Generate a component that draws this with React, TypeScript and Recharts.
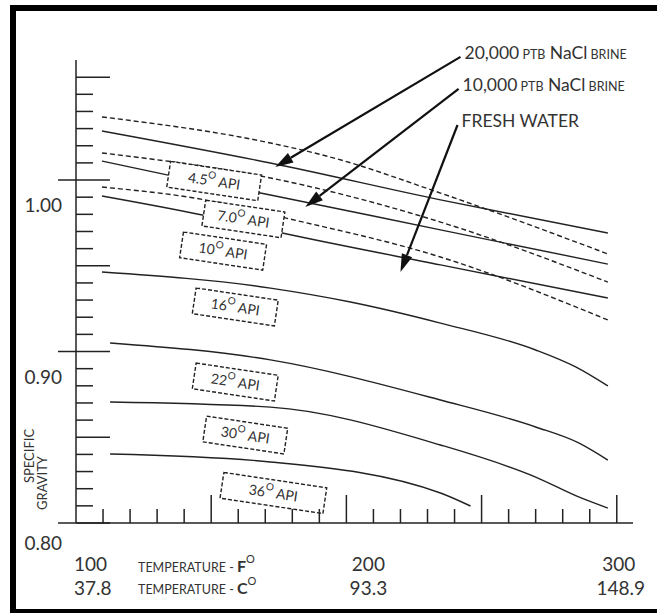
import { Line, LineChart, ReferenceDot, ReferenceLine, XAxis, YAxis } from "recharts";

const FONT = "Lato, 'DejaVu Sans', sans-serif";
const INK = "#222";

// curve readings: temperature (F) and specific gravity
const OIL45_T = [109.6, 171.9, 194.1, 234.8, 296.7];
const OIL45_SG = [1.0368, 1.0216, 1.0134, 0.9924, 0.9569];
const BRINE20_T = [109.6, 171.9, 234.8, 296.7];
const BRINE20_SG = [1.0286, 1.0099, 0.9884, 0.9691];
const OIL70_T = [109.6, 171.9, 234.8, 296.7];
const OIL70_SG = [1.0158, 1.0012, 0.9755, 0.9405];
const BRINE10_T = [109.6, 134.1, 171.9, 234.8, 296.7];
const BRINE10_SG = [1.0111, 1.0029, 0.9913, 0.9709, 0.951];
const OIL10_T = [109.6, 147.8, 177.4, 234.8, 296.7];
const OIL10_SG = [0.9959, 0.9884, 0.9779, 0.9551, 0.9184];
const FRESH_T = [109.6, 146.7, 176.3, 234.8, 296.7];
const FRESH_SG = [0.9907, 0.9796, 0.9691, 0.9505, 0.9312];
const OIL16_T = [109.6, 171.9, 201.5, 234.8, 270.0, 284.8, 296.7];
const OIL16_SG = [0.9464, 0.937, 0.9289, 0.9166, 0.9009, 0.891, 0.8799];
const OIL22_T = [112.6, 171.9, 234.8, 270.0, 285.9, 296.7];
const OIL22_SG = [0.905, 0.8951, 0.8717, 0.856, 0.8467, 0.8367];
const OIL30_T = [112.6, 171.9, 234.8, 270.0, 285.9, 296.7];
const OIL30_SG = [0.8706, 0.8676, 0.8455, 0.8268, 0.8152, 0.8087];
const OIL36_T = [112.6, 171.9, 234.8, 245.9];
const OIL36_SG = [0.8402, 0.8356, 0.8175, 0.8099];

// API labels in boxes
const BOX_API = ["4.5", "7.0", "10", "16", "22", "30", "36"];
const BOX_T = [151.1, 161.9, 154.4, 158.9, 158.9, 162.6, 173.0];
const BOX_SG = [0.9994, 0.9773, 0.9586, 0.926, 0.8822, 0.8513, 0.8175];
const BOX_WIDTHS = [92, 80, 84, 83, 83, 82, 104];

// arrow annotations
const ARROW_TEXT = ["20,000 PTB NaCl BRINE", "10,000 PTB NaCl BRINE", "FRESH WATER"];
const ARROW_FROM_T = [242.2, 241.5, 241.1];
const ARROW_FROM_SG = [1.0718, 1.0531, 1.0321];
const ARROW_TO_T = [173.7, 184.8, 220.0];
const ARROW_TO_SG = [1.0076, 0.9843, 0.9464];
const SMALL_CAPS = ["PTB", "BRINE"];

const TEMP_TICKS = [100, 110, 120, 130, 140, 150, 160, 170, 180, 190, 200, 210, 220, 230, 240, 250, 260, 270, 280, 290, 300];
const F_LABEL_AT = [100, 200, 300];
const F_LABELS = ["100", "200", "300"];
const C_LABELS = ["37.8", "93.3", "148.9"];
const SG_TICKS = [
  0.8, 0.81, 0.82, 0.83, 0.84, 0.85, 0.86, 0.87, 0.88, 0.89, 0.9, 0.91, 0.92, 0.93, 0.94, 0.95, 0.96, 0.97,
  0.98, 0.99, 1.0, 1.01, 1.02, 1.03, 1.04, 1.05, 1.06,
];
const LONG_SG_TICKS = [0.85, 0.95, 1.06];

const zip = (t: number[], sg: number[]) => t.map((v, i) => ({ t: v, sg: sg[i] }));

const CURVES = [
  { key: "oil45", data: zip(OIL45_T, OIL45_SG), dashed: true },
  { key: "brine20", data: zip(BRINE20_T, BRINE20_SG), dashed: false },
  { key: "oil70", data: zip(OIL70_T, OIL70_SG), dashed: true },
  { key: "brine10", data: zip(BRINE10_T, BRINE10_SG), dashed: false },
  { key: "oil10", data: zip(OIL10_T, OIL10_SG), dashed: true },
  { key: "fresh", data: zip(FRESH_T, FRESH_SG), dashed: false },
  { key: "oil16", data: zip(OIL16_T, OIL16_SG), dashed: false },
  { key: "oil22", data: zip(OIL22_T, OIL22_SG), dashed: false },
  { key: "oil30", data: zip(OIL30_T, OIL30_SG), dashed: false },
  { key: "oil36", data: zip(OIL36_T, OIL36_SG), dashed: false },
];

function SgTick({ x, y, payload }: any) {
  const v = Math.round(payload.value * 100);
  if (v % 10 === 0) {
    return (
      <g>
        <line x1={x - 18} x2={x + 34} y1={y} y2={y} stroke={INK} strokeWidth={1.5} />
        <text x={x - 14} y={y + (v === 80 ? 27 : 32)} textAnchor="end" fontSize={19} fill="#333" fontFamily={FONT}>
          {(v / 100).toFixed(2)}
        </text>
      </g>
    );
  }
  const long = LONG_SG_TICKS.some((l) => Math.round(l * 100) === v);
  return <line x1={x} x2={x + (long ? 34 : 17)} y1={y} y2={y} stroke={INK} strokeWidth={1.5} />;
}

function TempTick({ x, y, payload }: any) {
  const t = payload.value;
  const i = F_LABEL_AT.indexOf(t);
  const tall = t % 50 === 0;
  return (
    <g fontFamily={FONT} fill="#333">
      {t !== 100 && <line x1={x} x2={x} y1={y} y2={y - (tall ? 28 : 14)} stroke={INK} strokeWidth={1.5} />}
      {i === 0 && (
        <g>
          <text x={x - 2} y={y + 48} fontSize={19}>{F_LABELS[i]}</text>
          <text x={x - 2} y={y + 72} fontSize={19}>{C_LABELS[i]}</text>
          <text x={x + 62} y={y + 49} fontSize={12.5}>
            TEMPERATURE -{" "}
            <tspan fontSize={16} fontWeight="bold">F</tspan>
            <tspan fontSize={11} dy={-9}>O</tspan>
          </text>
          <text x={x + 62} y={y + 71} fontSize={12.5}>
            TEMPERATURE -{" "}
            <tspan fontSize={16} fontWeight="bold">C</tspan>
            <tspan fontSize={11} dy={-9}>O</tspan>
          </text>
        </g>
      )}
      {i > 0 && (
        <g textAnchor="middle">
          <text x={x + (i === 1 ? 22 : 2)} y={y + 48} fontSize={19}>{F_LABELS[i]}</text>
          <text x={x + (i === 1 ? 22 : 4)} y={y + 72} fontSize={19}>{C_LABELS[i]}</text>
        </g>
      )}
    </g>
  );
}

function boxShape(api: string, w: number) {
  return ({ cx, cy }: any) => (
    <g transform={`translate(${cx},${cy}) rotate(8.5)`} fontFamily={FONT}>
      <rect x={-w / 2} y={-13} width={w} height={26} fill="#fff" stroke={INK} strokeWidth={1.4} strokeDasharray="4 2" />
      <text x={0} y={5} textAnchor="middle" fontSize={14} fill="#333">
        {api}
        <tspan fontSize={10} dy={-7}>O</tspan>
        <tspan dy={7}> API</tspan>
      </text>
    </g>
  );
}

function arrowShape(label: string) {
  return ({ x1, y1, x2, y2 }: any) => {
    const a = Math.atan2(y2 - y1, x2 - x1);
    const len = 18;
    const half = 5.5;
    const bx = x2 - len * Math.cos(a);
    const by = y2 - len * Math.sin(a);
    const px = -Math.sin(a) * half;
    const py = Math.cos(a) * half;
    return (
      <g>
        <line x1={x1} y1={y1} x2={bx} y2={by} stroke="#111" strokeWidth={2.2} />
        <polygon points={`${x2},${y2} ${bx + px},${by + py} ${bx - px},${by - py}`} fill="#111" />
        <text x={x1 + 4} y={y1 + 2} fontSize={17.5} fill="#333" fontFamily={FONT}>
          {label.split(" ").map((word, k) => (
            <tspan key={k} fontSize={SMALL_CAPS.includes(word) ? 12.5 : 17.5}>
              {(k > 0 ? " " : "") + word}
            </tspan>
          ))}
        </text>
      </g>
    );
  };
}

export default function App() {
  return (
    <div style={{ position: "absolute", left: 0, top: 0, width: 657, height: 613, background: "#fff" }}>
      <LineChart width={657} height={613} margin={{ top: 60, right: 24, bottom: 89, left: 75 }}>
        <XAxis
          type="number"
          dataKey="t"
          domain={[100, 306]}
          allowDataOverflow
          ticks={TEMP_TICKS}
          interval={0}
          height={1}
          tickSize={0}
          tickMargin={0}
          tickLine={false}
          axisLine={{ stroke: INK, strokeWidth: 1.5 }}
          tick={<TempTick />}
        />
        <YAxis
          type="number"
          dataKey="sg"
          domain={[0.8, 1.07]}
          allowDataOverflow
          ticks={SG_TICKS}
          interval={0}
          width={1}
          tickSize={0}
          tickMargin={0}
          tickLine={false}
          axisLine={{ stroke: INK, strokeWidth: 1.5 }}
          tick={<SgTick />}
          label={{
            content: () => (
              <g fontFamily={FONT} fill="#333" fontSize={13} textAnchor="middle">
                <text transform="translate(34,456) rotate(-90)">SPECIFIC</text>
                <text transform="translate(47,483) rotate(-90)">GRAVITY</text>
              </g>
            ),
          }}
        />
        {CURVES.map((c) => (
          <Line
            key={c.key}
            data={c.data}
            dataKey="sg"
            type="monotone"
            stroke={INK}
            strokeWidth={1.4}
            strokeDasharray={c.dashed ? "5 3" : undefined}
            dot={false}
            activeDot={false}
            isAnimationActive={false}
          />
        ))}
        {BOX_API.map((api, i) => (
          <ReferenceDot
            key={api}
            x={BOX_T[i]}
            y={BOX_SG[i]}
            r={1}
            ifOverflow="visible"
            shape={boxShape(api, BOX_WIDTHS[i])}
          />
        ))}
        {ARROW_TEXT.map((label, i) => (
          <ReferenceLine
            key={label}
            segment={[
              { x: ARROW_FROM_T[i], y: ARROW_FROM_SG[i] },
              { x: ARROW_TO_T[i], y: ARROW_TO_SG[i] },
            ]}
            ifOverflow="visible"
            shape={arrowShape(label)}
          />
        ))}
      </LineChart>
      <div style={{ position: "absolute", left: 10, top: 5, width: 6, height: 608, background: "#000" }} />
      <div style={{ position: "absolute", left: 10, top: 5, width: 647, height: 6, background: "#000" }} />
      <div style={{ position: "absolute", left: 10, top: 609, width: 647, height: 4, background: "#000" }} />
    </div>
  );
}
